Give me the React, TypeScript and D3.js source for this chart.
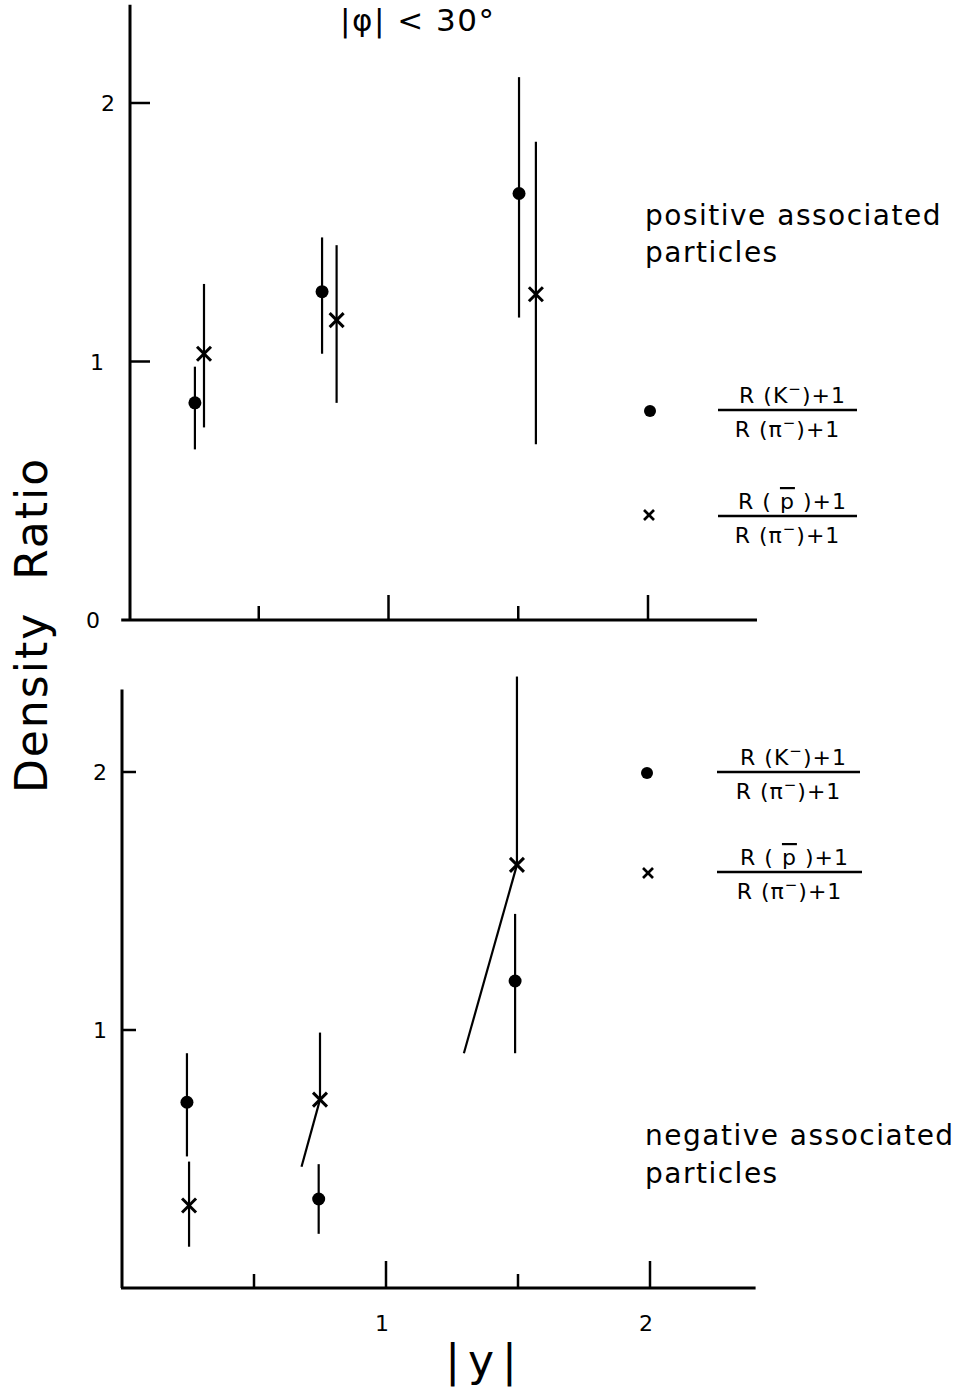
import React from "react";
import * as d3 from "d3";

// ---------- data ----------
// top panel: positive associated particles
const topK = [
  { x: 0.254, y: 0.84, lo: 0.66, hi: 0.98 },
  { x: 0.744, y: 1.27, lo: 1.03, hi: 1.48 },
  { x: 1.503, y: 1.65, lo: 1.17, hi: 2.1 },
];
const topP = [
  { x: 0.289, y: 1.03, lo: 0.745, hi: 1.3 },
  { x: 0.8, y: 1.16, lo: 0.84, hi: 1.45 },
  { x: 1.568, y: 1.26, lo: 0.68, hi: 1.85 },
];
// bottom panel: negative associated particles
const botK = [
  { x: 0.246, y: 0.72, lo: 0.51, hi: 0.91 },
  { x: 0.745, y: 0.345, lo: 0.21, hi: 0.48 },
  { x: 1.489, y: 1.19, lo: 0.91, hi: 1.45 },
];
const botP = [
  { x: 0.254, y: 0.32, lo: 0.16, hi: 0.49, loX: 0.254 },
  { x: 0.75, y: 0.73, lo: 0.47, hi: 0.99, loX: 0.68 },
  { x: 1.496, y: 1.64, lo: 0.91, hi: 2.37, loX: 1.295 },
];
const xMinorTicks = [0.5, 1.5];
const xMajorTicks = [1, 2];
const topYTicks = [0, 1, 2];
const botYTicks = [1, 2];
const xTickLabels = ["1", "2"];

const FONT = "DejaVu Sans, Verdana, sans-serif";

const W = 957;
const H = 1388;

const xTop = d3.scaleLinear().domain([0, 2]).range([129, 648]);
const yTop = d3.scaleLinear().domain([0, 2]).range([620, 103]);
const xBot = d3.scaleLinear().domain([0, 2]).range([122, 650]);
const yBot = d3.scaleLinear().domain([0, 2]).range([1288, 772]);

function Dot({ cx, cy, r = 6.5 }: { cx: number; cy: number; r?: number }) {
  return <circle cx={cx} cy={cy} r={r} fill="#000" />;
}
function Cross({ cx, cy, s = 7, w = 3 }: { cx: number; cy: number; s?: number; w?: number }) {
  return (
    <g stroke="#000" strokeWidth={w}>
      <line x1={cx - s} y1={cy - s} x2={cx + s} y2={cy + s} />
      <line x1={cx - s} y1={cy + s} x2={cx + s} y2={cy - s} />
    </g>
  );
}

function Fraction({
  x1,
  x2,
  y,
  num,
  den,
}: {
  x1: number;
  x2: number;
  y: number;
  num: React.ReactNode;
  den: React.ReactNode;
}) {
  const cx = (x1 + x2) / 2;
  return (
    <g>
      <line x1={x1} y1={y} x2={x2} y2={y} stroke="#000" strokeWidth={2.5} />
      <text x={cx + 5} y={y - 7} textAnchor="middle" fontFamily={FONT} fontSize={22} letterSpacing={1}>
        {num}
      </text>
      <text x={cx} y={y + 27} textAnchor="middle" fontFamily={FONT} fontSize={22} letterSpacing={1}>
        {den}
      </text>
    </g>
  );
}

const numK = (
  <>
    R (K<tspan dy={-9} fontSize={15}>−</tspan>
    <tspan dy={9}>)+1</tspan>
  </>
);
const numP = (
  <>
    R ( <tspan textDecoration="overline">p</tspan> )+1
  </>
);
const denPi = (
  <>
    R (π<tspan dy={-9} fontSize={15}>−</tspan>
    <tspan dy={9}>)+1</tspan>
  </>
);

export default function App() {
  const axisW = 3;
  return (
    <div style={{ position: "absolute", left: 0, top: 0 }}>
      <svg width={W} height={H} viewBox={`0 0 ${W} ${H}`} style={{ display: "block", background: "#fff" }}>
        <rect width={W} height={H} fill="#fff" />
        {/* title */}
        <text x={340} y={31} fontFamily={FONT} fontSize={31} letterSpacing={1.5}>
          |φ| &lt; 30°
        </text>

        {/* ---------- top panel ---------- */}
        <g>
          <line x1={xTop(0) + 1} y1={yTop(2.38)} x2={xTop(0) + 1} y2={yTop(0)} stroke="#000" strokeWidth={axisW} />
          <line x1={xTop(-0.03)} y1={yTop(0)} x2={xTop(2.42)} y2={yTop(0)} stroke="#000" strokeWidth={axisW} />
          {topYTicks
            .filter((t) => t > 0)
            .map((t) => (
              <line key={t} x1={xTop(0)} x2={xTop(0) + 21} y1={yTop(t)} y2={yTop(t)} stroke="#000" strokeWidth={2.5} />
            ))}
          {xMinorTicks.map((t) => (
            <line key={"mi" + t} x1={xTop(t)} x2={xTop(t)} y1={yTop(0)} y2={yTop(0) - 14} stroke="#000" strokeWidth={2.5} />
          ))}
          {xMajorTicks.map((t) => (
            <line key={"ma" + t} x1={xTop(t)} x2={xTop(t)} y1={yTop(0)} y2={yTop(0) - 25} stroke="#000" strokeWidth={2.5} />
          ))}
          {topYTicks.map((t, i) => (
            <text
              key={"yl" + t}
              x={[93, 97, 108][i]}
              y={yTop(t) + 8}
              textAnchor="middle"
              fontFamily={FONT}
              fontSize={22}
            >
              {String(t)}
            </text>
          ))}
          {topK.map((d, i) => (
            <g key={"tk" + i}>
              <line x1={xTop(d.x)} x2={xTop(d.x)} y1={yTop(d.hi)} y2={yTop(d.lo)} stroke="#000" strokeWidth={2.2} />
              <Dot cx={xTop(d.x)} cy={yTop(d.y)} />
            </g>
          ))}
          {topP.map((d, i) => (
            <g key={"tp" + i}>
              <line x1={xTop(d.x)} x2={xTop(d.x)} y1={yTop(d.hi)} y2={yTop(d.lo)} stroke="#000" strokeWidth={2.2} />
              <Cross cx={xTop(d.x)} cy={yTop(d.y)} />
            </g>
          ))}
          <text fontFamily={FONT} fontSize={28} letterSpacing={1.5} x={645} y={225}>
            positive associated
          </text>
          <text fontFamily={FONT} fontSize={28} letterSpacing={1.5} x={645} y={262}>
            particles
          </text>
          <Dot cx={650} cy={411} r={6} />
          <Fraction x1={718} x2={857} y={410} num={numK} den={denPi} />
          <Cross cx={649} cy={515} s={5} w={2.6} />
          <Fraction x1={718} x2={857} y={516} num={numP} den={denPi} />
        </g>

        {/* ---------- bottom panel ---------- */}
        <g>
          <line x1={xBot(0)} y1={yBot(2.32)} x2={xBot(0)} y2={yBot(0)} stroke="#000" strokeWidth={axisW} />
          <line x1={xBot(0) - 1} y1={yBot(0)} x2={xBot(2.4)} y2={yBot(0)} stroke="#000" strokeWidth={axisW} />
          {botYTicks.map((t) => (
            <line key={t} x1={xBot(0)} x2={xBot(0) + 14} y1={yBot(t)} y2={yBot(t)} stroke="#000" strokeWidth={2.5} />
          ))}
          {xMinorTicks.map((t) => (
            <line key={"bmi" + t} x1={xBot(t)} x2={xBot(t)} y1={yBot(0)} y2={yBot(0) - 14} stroke="#000" strokeWidth={2.5} />
          ))}
          {xMajorTicks.map((t) => (
            <line key={"bma" + t} x1={xBot(t)} x2={xBot(t)} y1={yBot(0)} y2={yBot(0) - 27} stroke="#000" strokeWidth={2.5} />
          ))}
          {botYTicks.map((t) => (
            <text key={"byl" + t} x={100} y={yBot(t) + 8} textAnchor="middle" fontFamily={FONT} fontSize={22}>
              {String(t)}
            </text>
          ))}
          {xMajorTicks.map((t, i) => (
            <text key={"bxl" + t} x={xBot(t) - 4} y={1331} textAnchor="middle" fontFamily={FONT} fontSize={22}>
              {xTickLabels[i]}
            </text>
          ))}
          {botK.map((d, i) => (
            <g key={"bk" + i}>
              <line x1={xBot(d.x)} x2={xBot(d.x)} y1={yBot(d.hi)} y2={yBot(d.lo)} stroke="#000" strokeWidth={2.2} />
              <Dot cx={xBot(d.x)} cy={yBot(d.y)} />
            </g>
          ))}
          {botP.map((d, i) => (
            <g key={"bp" + i}>
              <line x1={xBot(d.x)} x2={xBot(d.x)} y1={yBot(d.hi)} y2={yBot(d.y)} stroke="#000" strokeWidth={2.2} />
              <line x1={xBot(d.x)} x2={xBot(d.loX)} y1={yBot(d.y)} y2={yBot(d.lo)} stroke="#000" strokeWidth={2.2} />
              <Cross cx={xBot(d.x)} cy={yBot(d.y)} />
            </g>
          ))}
          <text fontFamily={FONT} fontSize={28} letterSpacing={1.5} x={645} y={1145}>
            negative associated
          </text>
          <text fontFamily={FONT} fontSize={28} letterSpacing={1.5} x={645} y={1183}>
            particles
          </text>
          <Dot cx={647} cy={773} r={6} />
          <Fraction x1={717} x2={860} y={772} num={numK} den={denPi} />
          <Cross cx={648} cy={873} s={5} w={2.6} />
          <Fraction x1={717} x2={862} y={872} num={numP} den={denPi} />
        </g>

        {/* axis titles */}
        <text
          transform="translate(47,625) rotate(-90)"
          textAnchor="middle"
          fontFamily={FONT}
          fontSize={44}
          letterSpacing={2}
        >
          Density{"\u00a0\u00a0"}Ratio
        </text>
        <text x={485} y={1376} textAnchor="middle" fontFamily={FONT} fontSize={44} letterSpacing={8}>
          |y|
        </text>
      </svg>
    </div>
  );
}
